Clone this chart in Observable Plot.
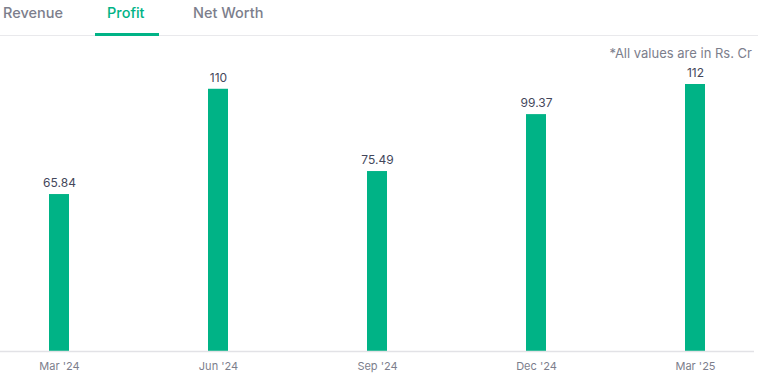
<!DOCTYPE html>
<html>
<head>
<meta charset="utf-8">
<script src="https://cdn.jsdelivr.net/npm/d3@7"></script>
<script src="https://cdn.jsdelivr.net/npm/@observablehq/plot@0.6"></script>
<style>
  body { margin: 0; background: #fff; font-family: Inter, "Noto Sans", sans-serif; width: 758px; height: 378px; overflow: hidden; position: relative; }
  .tabs { height: 35px; border-bottom: 1px solid #e9e9ec; position: relative; }
  .tab { position: absolute; top: 4px; font-size: 14.5px; color: #7c7e8c; font-weight: 500; }
  .tab.active { color: #00b386; }
  .underline { position: absolute; left: 95px; width: 64px; bottom: -1px; height: 3px; background: #00b386; }
  .note { position: absolute; right: 6px; top: 45px; font-size: 13px; color: #7c7e8c; }
  #chart { position: absolute; top: 36px; left: 0; }
</style>
</head>
<body>
<div class="tabs">
  <span class="tab" style="left:3px">Revenue</span>
  <span class="tab active" style="left:107px">Profit</span>
  <span class="tab" style="left:193px">Net Worth</span>
  <div class="underline"></div>
</div>
<div class="note">*All values are in Rs. Cr</div>
<div id="chart"></div>
<script>
const quarters = ["Mar '24", "Jun '24", "Sep '24", "Dec '24", "Mar '25"];
const profit = [65.84, 110, 75.49, 99.37, 112];
const labels = ["65.84", "110", "75.49", "99.37", "112"];

const data = quarters.map((q, i) => ({q, v: profit[i], label: labels[i]}));

const chart = Plot.plot({
  width: 758,
  height: 342,
  marginLeft: 0,
  marginRight: 4,
  marginTop: 48,
  marginBottom: 27,
  style: {fontFamily: "Inter, 'Noto Sans', sans-serif", background: "transparent"},
  x: {domain: quarters, paddingInner: 0.875, paddingOuter: 0.294, label: null, tickSize: 0, tickPadding: 11},
  y: {domain: [0, 112], axis: null},
  marks: [
    Plot.barY(data, {x: "q", y: "v", fill: "#00b386"}),
    Plot.ruleY([0], {stroke: "#e2e2e6", strokeWidth: 1.5}),
    Plot.text(data, {x: "q", y: "v", text: "label", dy: -11, fontSize: 12, fill: "#44475b"}),
    Plot.axisX({tickSize: 0, tickPadding: 11, fontSize: 11, color: "#7c7e8c", label: null})
  ]
});
document.getElementById("chart").appendChild(chart);
</script>
</body>
</html>
